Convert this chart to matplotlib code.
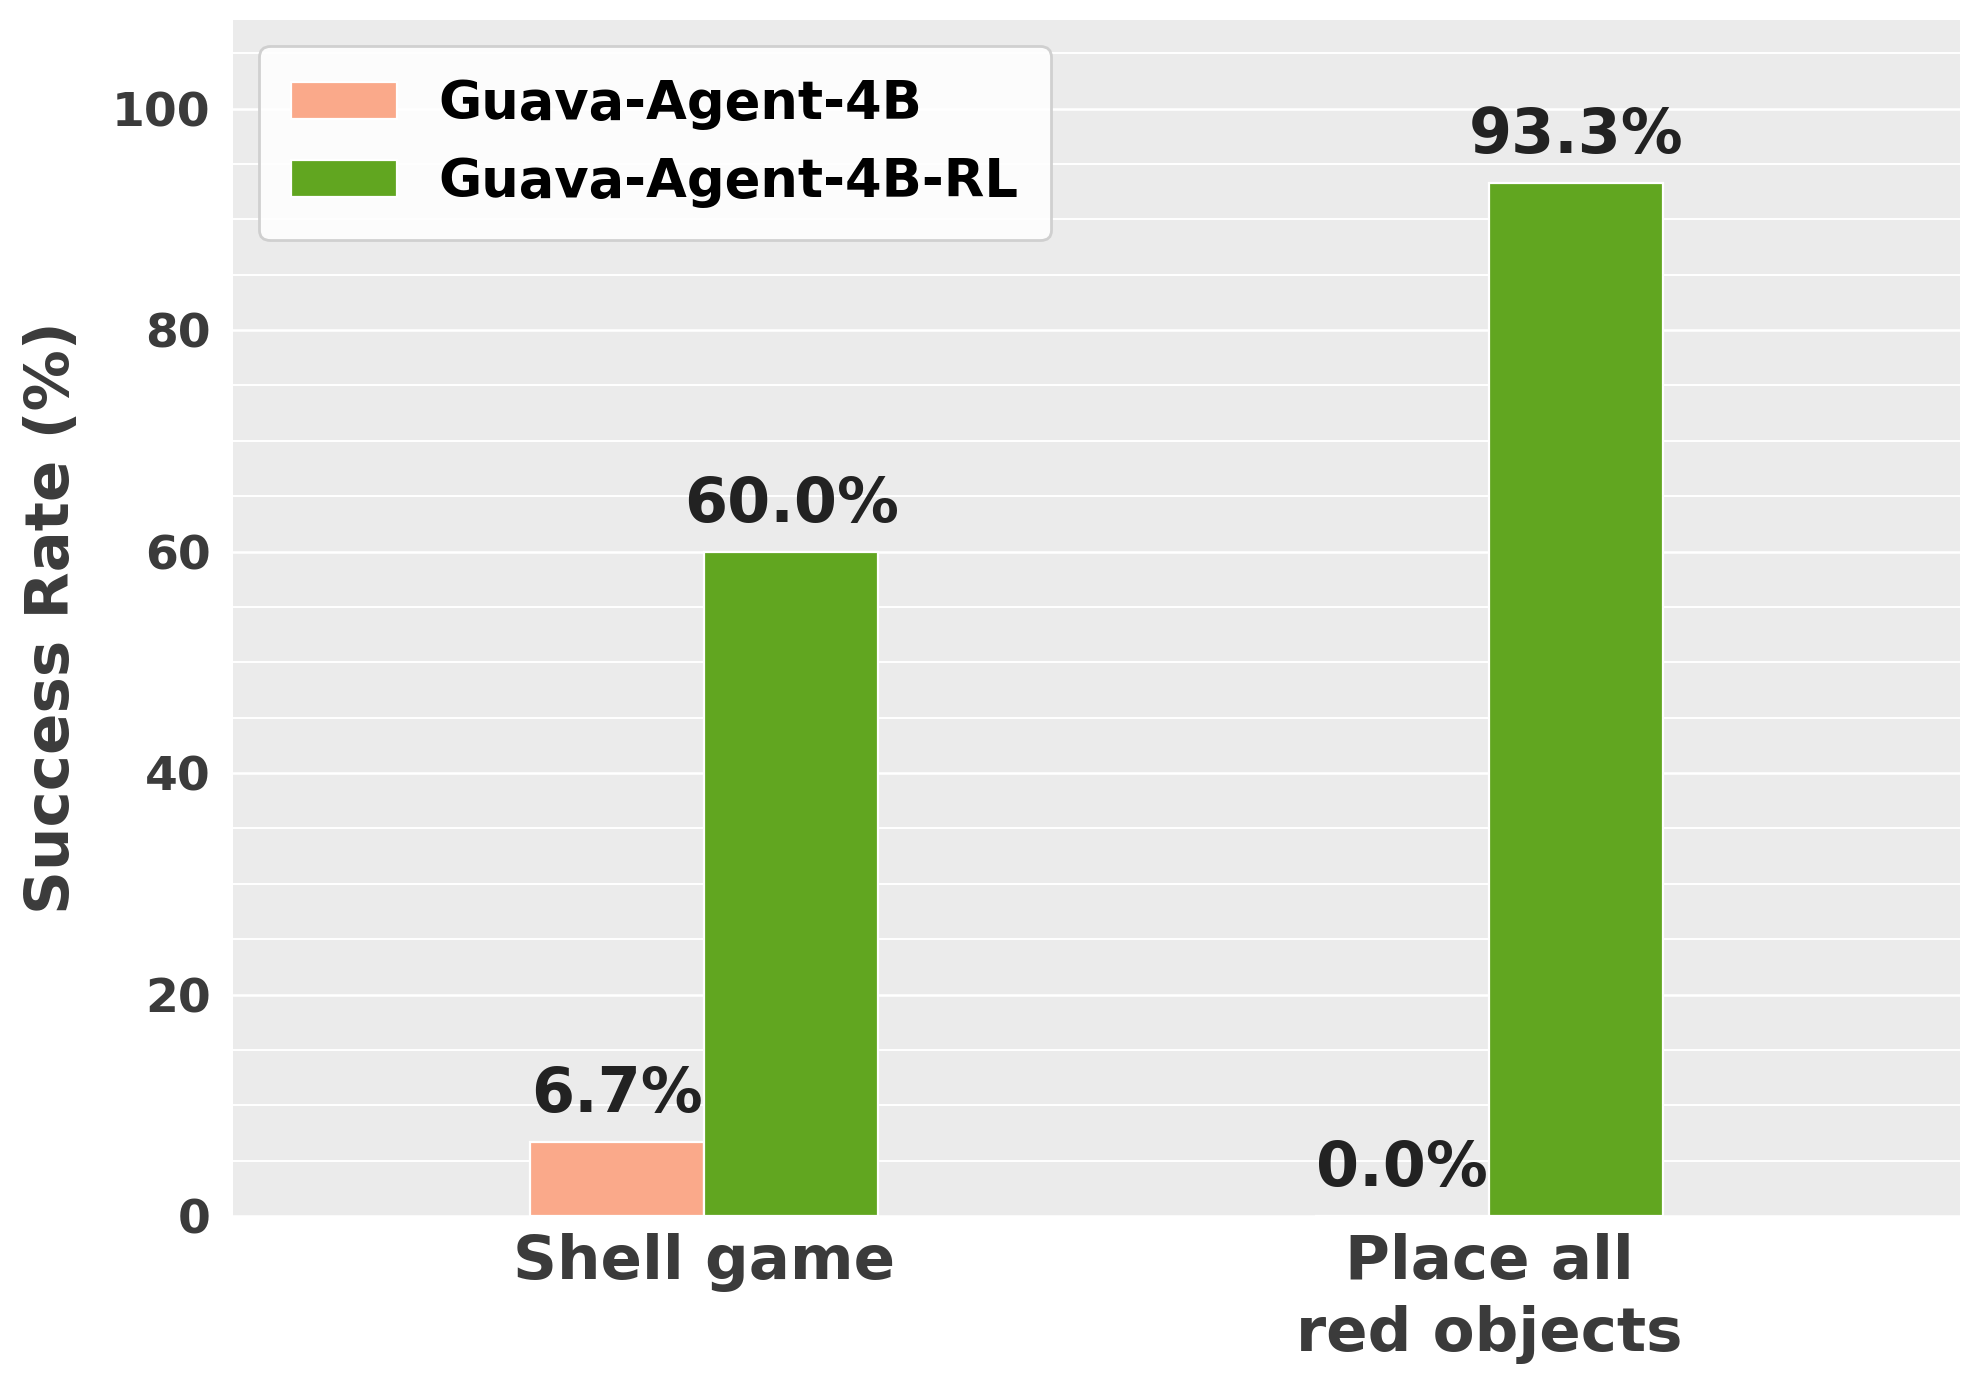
import matplotlib
matplotlib.use("Agg")
import matplotlib.pyplot as plt
import numpy as np
from matplotlib.ticker import MultipleLocator

categories = ["Shell game", "Place all\nred objects"]
series_names = ["Guava-Agent-4B", "Guava-Agent-4B-RL"]
base_values = [6.7, 0.0]
rl_values = [60.0, 93.3]
colors = ["#FAA98A", "#61A620"]

plt.rcParams["font.family"] = ["DejaVu Sans"]
plt.rcParams["font.weight"] = "bold"

fig = plt.figure(figsize=(1981 / 200, 1383 / 200), dpi=200)
ax = fig.add_axes([233 / 1981, 1 - 1216 / 1383, (1960 - 233) / 1981, (1216 - 20) / 1383])
ax.set_facecolor("#EBEBEB")
for s in ax.spines.values():
    s.set_visible(False)

x = np.arange(len(categories))
w = 0.222
b1 = ax.bar(x - w / 2, base_values, w, color=colors[0], edgecolor="white", linewidth=0.8,
            label=series_names[0], zorder=3)
b2 = ax.bar(x + w / 2, rl_values, w, color=colors[1], edgecolor="white", linewidth=0.8,
            label=series_names[1], zorder=3)

for bars, vals in ((b1, base_values), (b2, rl_values)):
    for r, v in zip(bars, vals):
        ax.text(r.get_x() + r.get_width() / 2, v + 1.5, f"{v:.1f}%", ha="center", va="bottom",
                fontsize=22.3, fontweight="bold", color="#222222", zorder=4)

ax.set_xlim(-0.6, 1.6)
ax.set_ylim(0, 108)
ax.yaxis.set_major_locator(MultipleLocator(20))
ax.yaxis.set_minor_locator(MultipleLocator(5))
ax.grid(which="major", axis="y", color="white", linewidth=0.9, zorder=0)
ax.grid(which="minor", axis="y", color="white", linewidth=0.7, zorder=0)
ax.grid(which="major", axis="x", visible=False)
ax.set_axisbelow(True)

ax.set_xticks(x)
ax.set_xticklabels(categories, fontsize=22, fontweight="bold", color="#3B3B3B", linespacing=1.28)
ax.tick_params(axis="x", length=0, pad=6)
ax.tick_params(axis="y", which="both", length=0, pad=8, labelsize=17, labelcolor="#3B3B3B")
for t in ax.get_yticklabels():
    t.set_fontweight("bold")

ax.set_ylabel("Success Rate (%)", fontsize=22, fontweight="bold", color="#3B3B3B", labelpad=11)

leg = ax.legend(loc="upper left", fontsize=19, frameon=True, fancybox=True, framealpha=0.9,
                edgecolor="#CCCCCC", borderpad=0.6, prop={"weight": "bold", "size": 19})
leg.get_frame().set_facecolor("white")
for t in leg.get_texts():
    t.set_color("black")

fig.savefig("out.png", dpi=200)
